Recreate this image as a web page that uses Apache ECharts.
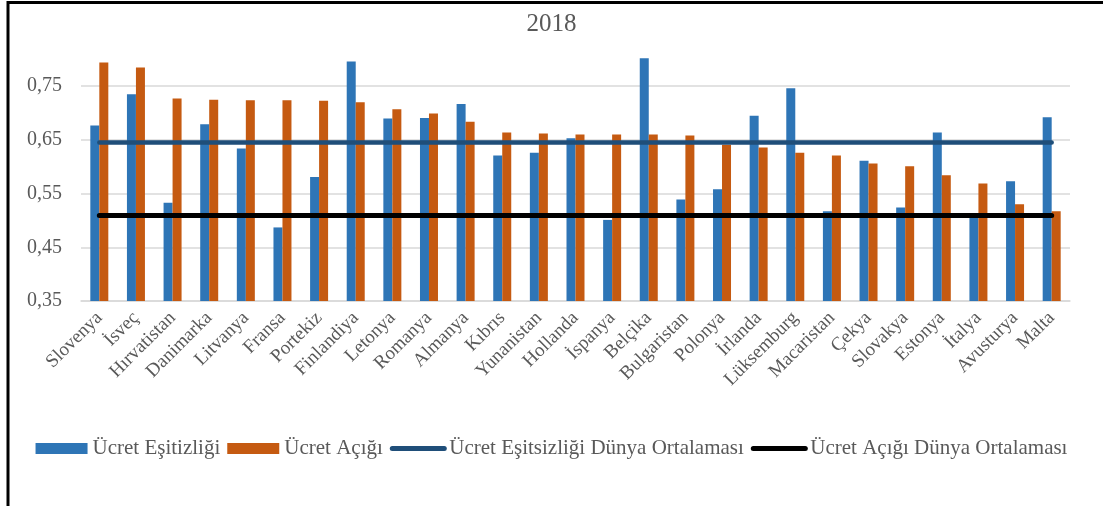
<!DOCTYPE html>
<html><head><meta charset="utf-8">
<script src="https://cdn.jsdelivr.net/npm/echarts@6/dist/echarts.min.js"></script>
<style>html,body{margin:0;padding:0;background:#fff}#c{width:1103px;height:506px}</style>
</head><body><div id="c"></div>
<script>
const categories = ['Slovenya','İsveç','Hırvatistan','Danimarka','Litvanya','Fransa','Portekiz','Finlandiya','Letonya','Romanya','Almanya','Kıbrıs','Yunanistan','Hollanda','İspanya','Belçika','Bulgaristan','Polonya','İrlanda','Lüksemburg','Macaristan','Çekya','Slovakya','Estonya','İtalya','Avusturya','Malta'];
const ucretEsitligi = [0.677,0.735,0.533,0.679,0.634,0.487,0.581,0.796,0.690,0.691,0.717,0.621,0.626,0.653,0.501,0.802,0.539,0.558,0.695,0.746,0.517,0.611,0.524,0.664,0.508,0.573,0.692];
const ucretAcigi = [0.794,0.785,0.727,0.725,0.724,0.724,0.723,0.720,0.707,0.699,0.684,0.664,0.662,0.660,0.660,0.660,0.658,0.641,0.636,0.626,0.621,0.606,0.601,0.584,0.569,0.530,0.517];
const esitsizlikOrt = 0.645;
const acikOrt = 0.509;
const seriesNames = ['Ücret Eşitizliği','Ücret Açığı','Ücret Eşitsizliği Dünya Ortalaması','Ücret Açığı Dünya Ortalaması'];
const yTicks = [0.35,0.45,0.55,0.65,0.75];

const font = 'Liberation Serif';
const chart = echarts.init(document.getElementById('c'));
chart.setOption({
  animation:false,
  textStyle:{fontFamily:font},
  title:{text:'2018',left:'center',top:7,textStyle:{fontFamily:font,fontSize:25,fontWeight:'normal',color:'#595959'}},
  grid:{left:81,right:33,top:32.5,bottom:205},
  legend:{top:433,left:'center',itemGap:7,itemWidth:52,itemHeight:11,
    textStyle:{fontFamily:font,fontSize:21,color:'#595959'},
    data:[{name:seriesNames[0],icon:'rect'},{name:seriesNames[1],icon:'rect'},
          {name:seriesNames[2],itemStyle:{opacity:0},lineStyle:{width:5,cap:'round',color:'#1F4E79'}},
          {name:seriesNames[3],itemStyle:{opacity:0},lineStyle:{width:5,cap:'round',color:'#000000'}}]},
  xAxis:{type:'category',data:categories,
    axisLine:{lineStyle:{color:'#D9D9D9',width:1.5}},axisTick:{show:false},
    axisLabel:{rotate:45,interval:0,fontFamily:font,fontSize:19,color:'#595959',margin:14}},
  yAxis:{type:'value',min:0.35,max:0.85,interval:0.1,
    axisLine:{show:false},axisTick:{show:false},
    splitLine:{showMaxLine:false,lineStyle:{color:'#D9D9D9',width:1.5}},
    axisLabel:{showMaxLabel:false,fontFamily:font,fontSize:20,color:'#595959',margin:19,
      formatter:v=>yTicks.some(t=>Math.abs(t-v)<1e-6)?v.toFixed(2).replace('.',','):''}},
  series:[
    {name:seriesNames[0],type:'bar',data:ucretEsitligi,barWidth:9,barGap:'0%',itemStyle:{color:'#2E75B6'}},
    {name:seriesNames[1],type:'bar',data:ucretAcigi,barWidth:9,itemStyle:{color:'#C55A11'}},
    {name:seriesNames[2],type:'line',data:categories.map(()=>esitsizlikOrt),symbol:'none',
      lineStyle:{color:'#1F4E79',width:4.5,cap:'round'},itemStyle:{color:'#1F4E79'},z:5},
    {name:seriesNames[3],type:'line',data:categories.map(()=>acikOrt),symbol:'none',
      lineStyle:{color:'#000000',width:5,cap:'round'},itemStyle:{color:'#000000'},z:5}
  ],
  graphic:[
    {type:'line',shape:{x1:7,y1:2.5,x2:1103,y2:2.5},style:{stroke:'#000',lineWidth:3}},
    {type:'line',shape:{x1:8,y1:1,x2:8,y2:506},style:{stroke:'#000',lineWidth:3}}
  ]
});
</script></body></html>
